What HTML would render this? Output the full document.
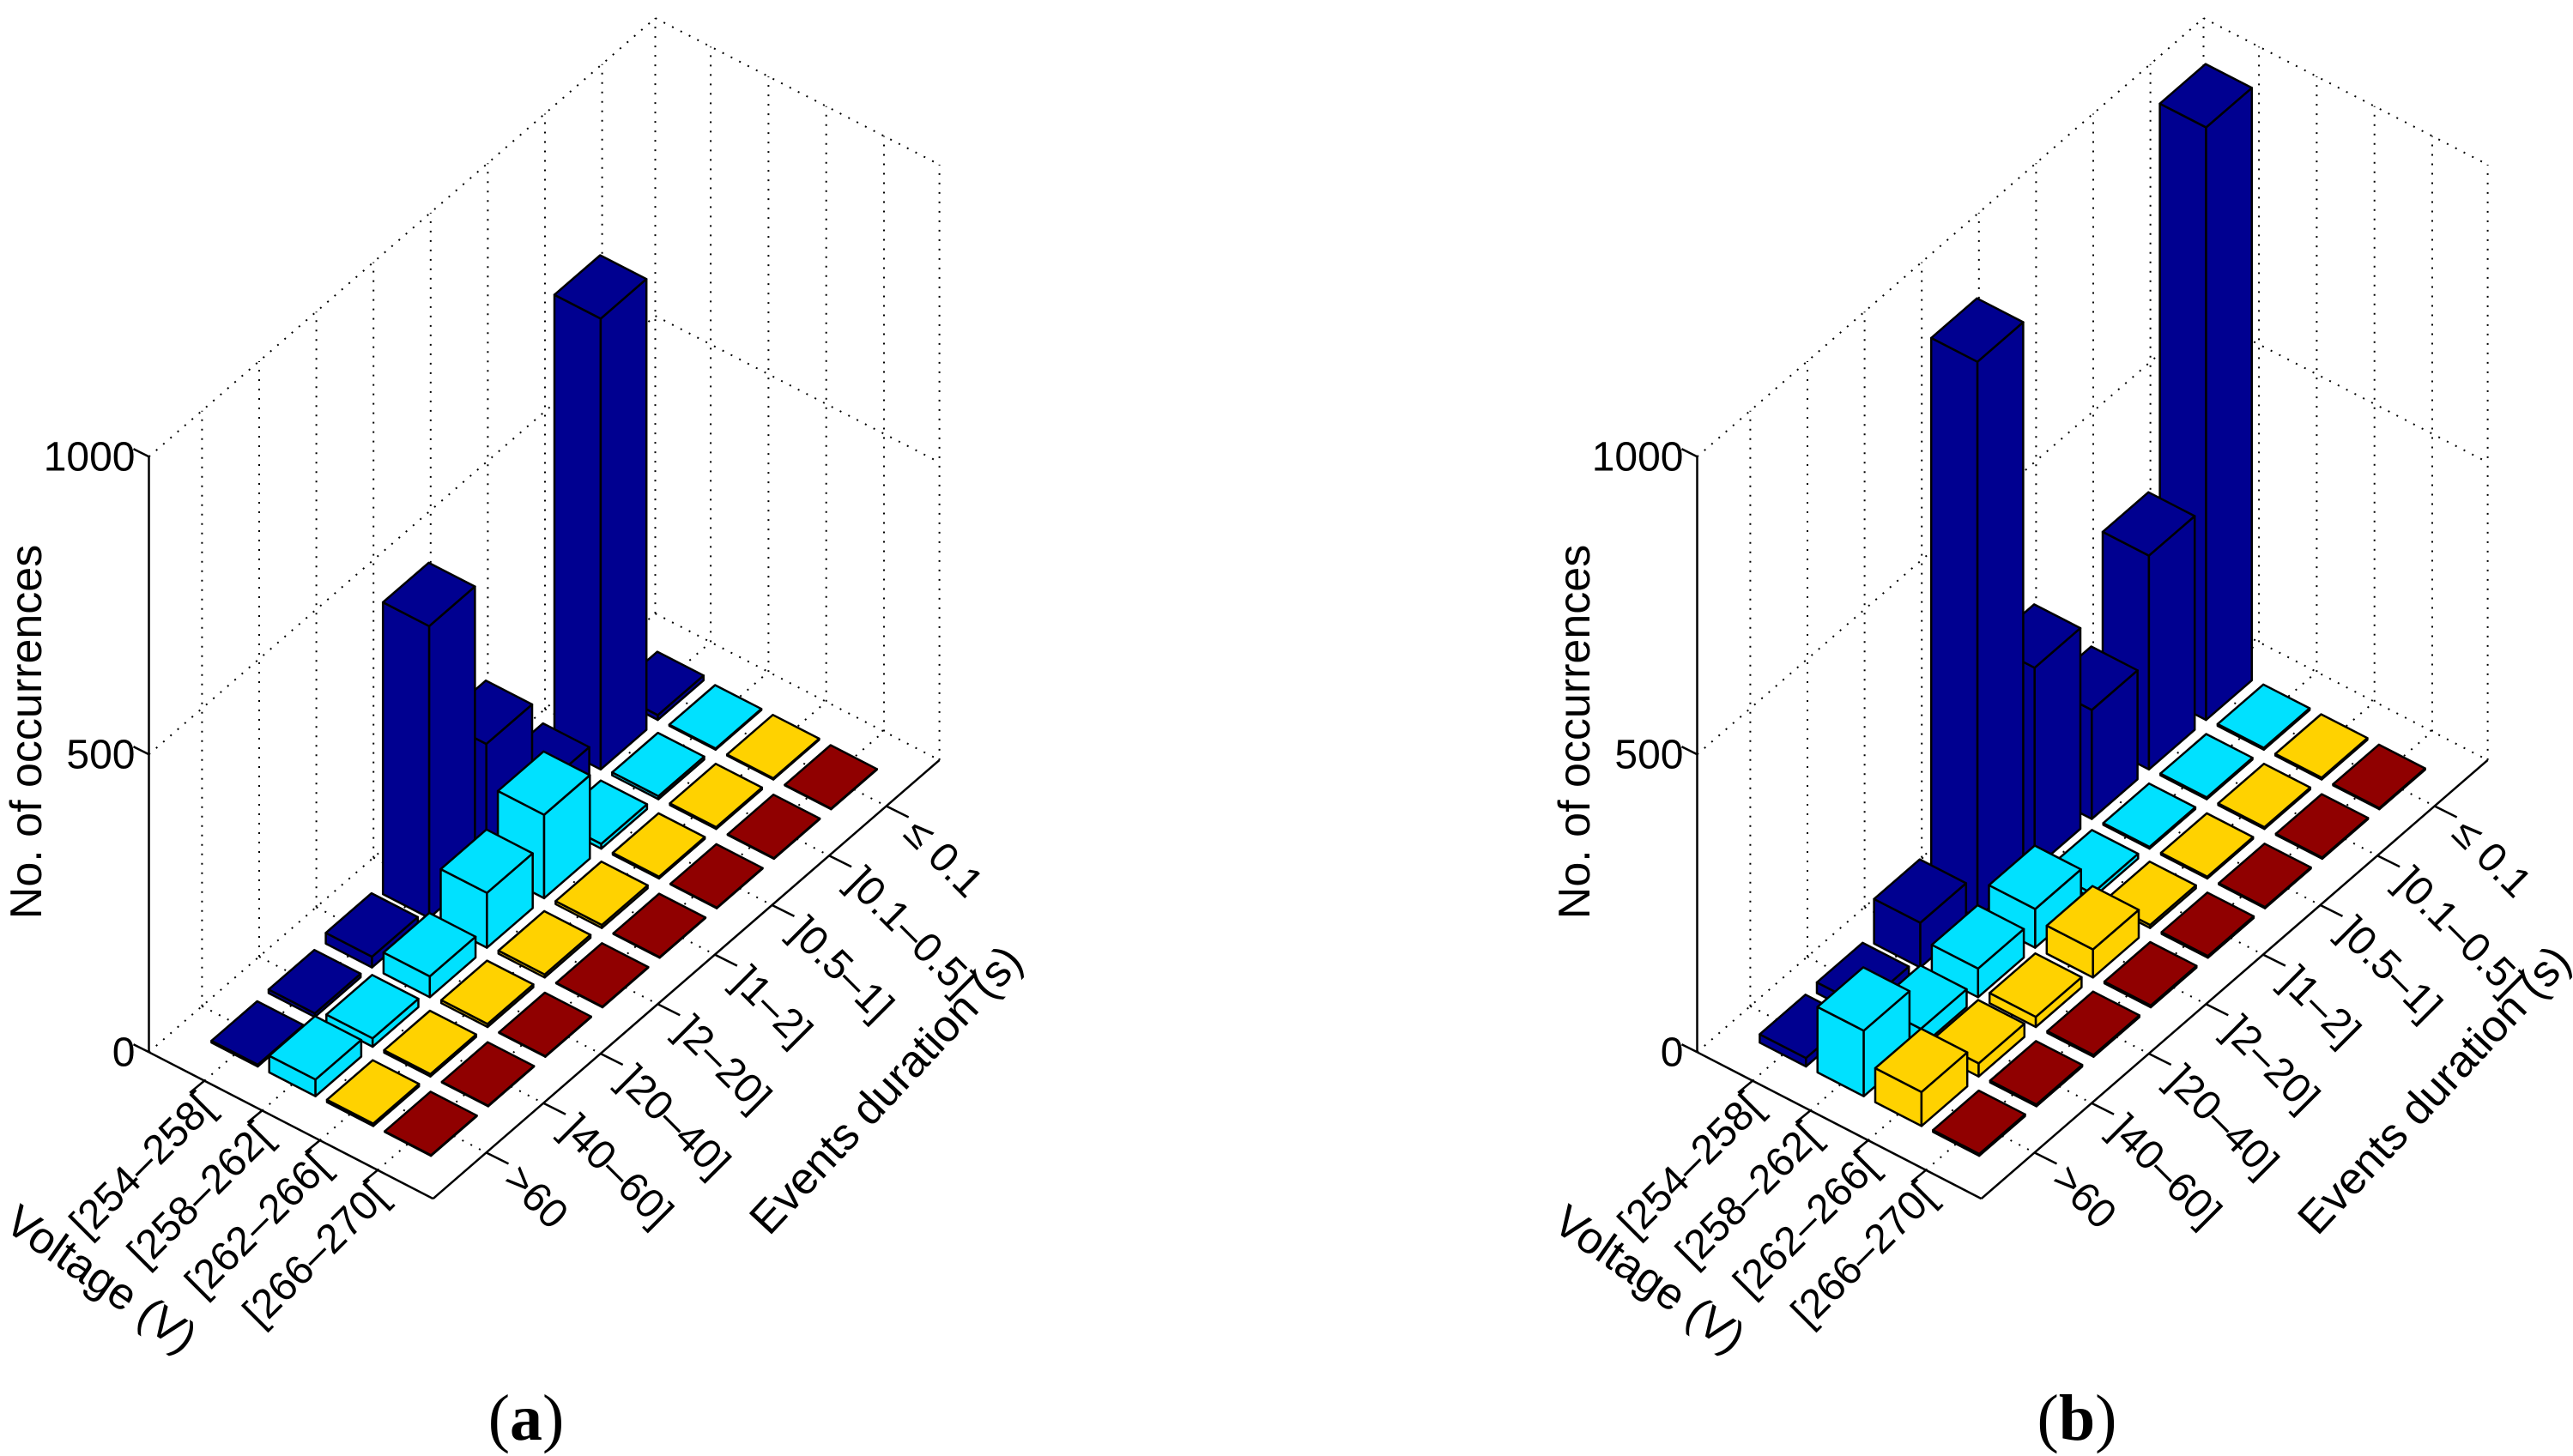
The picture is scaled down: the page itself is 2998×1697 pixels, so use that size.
<!DOCTYPE html>
<html><head><meta charset="utf-8"><title>3D bar charts</title>
<style>
html,body{margin:0;padding:0;background:#fff;}
svg{display:block;}
text{font-family:"Liberation Sans",Arial,sans-serif;fill:#000;}
</style></head>
<body>
<svg id="chart" width="2998" height="1697" viewBox="0 0 2998 1697" xmlns="http://www.w3.org/2000/svg">
<g id="panel-a"></g>
<g id="panel-b"></g>
<text x="613" y="1678" text-anchor="middle" style="font-family:'Liberation Serif',serif;font-size:76px;">(<tspan font-weight="bold">a</tspan>)</text>
<text x="2420" y="1678" text-anchor="middle" style="font-family:'Liberation Serif',serif;font-size:76px;">(<tspan font-weight="bold">b</tspan>)</text>
</svg>
<script>
// ---- data ----
const voltageCats = ["[254–258[", "[258–262[", "[262–266[", "[266–270["];
const durationCats = [">60", "]40–60]", "]20–40]", "]2–20]", "]1–2]", "]0.5–1]", "]0.1–0.5]", "≤ 0.1"];
const zTicks = [0, 500, 1000];
// panel (a): occurrences per duration bin (front >60 ... back <=0.1)
const a_v254 = [3, 6, 18, 490, 209, 54, 757, 8];
const a_v258 = [28, 14, 35, 92, 140, 8, 5, 2];
const a_v262 = [4, 4, 5, 5, 5, 3, 3, 2];
const a_v266 = [1, 1, 1, 1, 1, 1, 1, 1];
// panel (b)
const b_v254 = [14, 18, 75, 934, 337, 183, 359, 995];
const b_v258 = [110, 30, 48, 65, 8, 3, 3, 3];
const b_v262 = [57, 22, 17, 47, 5, 3, 3, 3];
const b_v266 = [3, 3, 3, 3, 3, 2, 2, 2];

const rowColors = ["#000090", "#00E1FF", "#FFD200", "#900000"];
const NS = "http://www.w3.org/2000/svg";
const VB = [67.3, 34.7], DB = [66.6, -57.7], ZS = 0.694;
const UMIN = -0.96, UMAX = 3.96, TMIN = -0.93, TMAX = 7.93, ZMAX = 1000, W = 0.4;

function P(p, u, t, z) {
  return [p.cx + u * VB[0] + t * DB[0], p.cy + u * VB[1] + t * DB[1] - z * ZS];
}
function mk(parent, tag) {
  const el = document.createElementNS(NS, tag);
  parent.appendChild(el);
  return el;
}
function line(parent, a, b, dotted) {
  const el = mk(parent, "line");
  el.setAttribute("x1", a[0].toFixed(1)); el.setAttribute("y1", a[1].toFixed(1));
  el.setAttribute("x2", b[0].toFixed(1)); el.setAttribute("y2", b[1].toFixed(1));
  el.setAttribute("stroke", "#000");
  el.setAttribute("stroke-width", dotted ? 2 : 2.5);
  if (dotted) el.setAttribute("stroke-dasharray", "2 9");
  return el;
}
function poly(parent, pts, fill) {
  const el = mk(parent, "polygon");
  el.setAttribute("points", pts.map(q => q[0].toFixed(1) + "," + q[1].toFixed(1)).join(" "));
  el.setAttribute("fill", fill);
  el.setAttribute("stroke", "#000");
  el.setAttribute("stroke-width", 2.5);
  el.setAttribute("stroke-linejoin", "round");
  return el;
}
function txt(parent, x, y, s, size, anchor, rot) {
  const el = mk(parent, "text");
  el.setAttribute("x", x.toFixed(1)); el.setAttribute("y", y.toFixed(1));
  el.setAttribute("font-size", size);
  el.setAttribute("text-anchor", anchor);
  if (rot) el.setAttribute("transform", "rotate(" + rot + " " + x.toFixed(1) + " " + y.toFixed(1) + ")");
  el.textContent = s;
  return el;
}

function drawPanel(g, p, rows, tag) {
  const grid = mk(g, "g");
  
  
  for (let i = 0; i < voltageCats.length; i++) line(grid, P(p, i, TMIN, 0), P(p, i, TMAX, 0), true);
  for (let j = 0; j < durationCats.length; j++) line(grid, P(p, UMIN, j, 0), P(p, UMAX, j, 0), true);
  for (let j = 0; j < durationCats.length; j++) line(grid, P(p, UMIN, j, 0), P(p, UMIN, j, ZMAX), true);
  line(grid, P(p, UMIN, TMAX, 0), P(p, UMIN, TMAX, ZMAX), true);
  zTicks.forEach(z => line(grid, P(p, UMIN, TMIN, z), P(p, UMIN, TMAX, z), true));
  for (let i = 0; i < voltageCats.length; i++) line(grid, P(p, i, TMAX, 0), P(p, i, TMAX, ZMAX), true);
  line(grid, P(p, UMAX, TMAX, 0), P(p, UMAX, TMAX, ZMAX), true);
  zTicks.forEach(z => line(grid, P(p, UMIN, TMAX, z), P(p, UMAX, TMAX, z), true));

  const zAxis = line(g, P(p, UMIN, TMIN, 0), P(p, UMIN, TMIN, ZMAX), false);
  
  
  const vAxis = line(g, P(p, UMIN, TMIN, 0), P(p, UMAX, TMIN, 0), false);
  
  
  const dAxis = line(g, P(p, UMAX, TMIN, 0), P(p, UMAX, TMAX, 0), false);
  
  

  zTicks.forEach(z => {
    const a = P(p, UMIN, TMIN, z);
    line(g, a, [a[0] - 18, a[1] - 9], false);
    const t = txt(g, a[0] - 16, a[1] + 16, String(z), 48, "end", 0);
    
    
  });
  voltageCats.forEach((s, i) => {
    const a = P(p, i, TMIN, 0);
    line(g, a, [a[0] - 17, a[1] + 14], false);
    const t = txt(g, a[0] + 14, a[1] + 34, s, 48, "end", -45);
    
    
  });
  durationCats.forEach((s, j) => {
    const a = P(p, UMAX, j, 0);
    line(g, a, [a[0] + 26, a[1] + 13], false);
    const t = txt(g, a[0] + 18, a[1] + 34, s, 48, "start", 45);
    
    
  });
  const zt = txt(g, p.cx - 252, 853, "No. of occurrences", 52, "middle", -90);
  
  
  const vt = txt(g, p.cx - 192, 1505, "Voltage (V)", 52, "middle", 35);
  
  
  const dt = txt(g, p.cx + 745, 1282, "Events duration (s)", 52, "middle", -47);
  
  

  const items = [];
  rows.forEach((arr, i) => arr.forEach((v, j) => items.push({ i, j, v })));
  items.sort((a, b) => (a.i - a.j) - (b.i - b.j));
  const bars = mk(g, "g");
  
  
  items.forEach(it => {
    const bg = mk(bars, "g");
    
    
    const i = it.i, j = it.j, h = it.v, c = rowColors[i];
    poly(bg, [P(p, i - W, j - W, 0), P(p, i + W, j - W, 0), P(p, i + W, j - W, h), P(p, i - W, j - W, h)], c);
    poly(bg, [P(p, i + W, j - W, 0), P(p, i + W, j + W, 0), P(p, i + W, j + W, h), P(p, i + W, j - W, h)], c);
    poly(bg, [P(p, i - W, j - W, h), P(p, i + W, j - W, h), P(p, i + W, j + W, h), P(p, i - W, j + W, h)], c);
  });
}

drawPanel(document.getElementById("panel-a"), { cx: 300, cy: 1206 }, [a_v254, a_v258, a_v262, a_v266], "a");
drawPanel(document.getElementById("panel-b"), { cx: 2104, cy: 1206 }, [b_v254, b_v258, b_v262, b_v266], "b");
</script>
</body></html>
